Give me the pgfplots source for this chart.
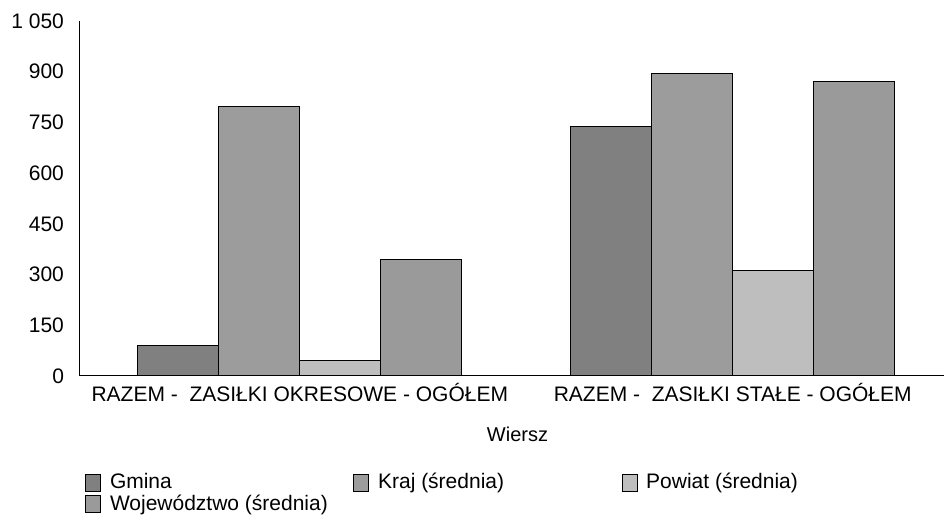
\documentclass[border=0pt]{standalone}
\usepackage{pgfplots}
\pgfplotsset{compat=1.18}
\usepackage{fontspec}
\setmainfont{Liberation Sans}
\definecolor{cG}{HTML}{808080}
\definecolor{cK}{HTML}{9C9C9C}
\definecolor{cP}{HTML}{BEBEBE}
\definecolor{cW}{HTML}{9A9A9A}
\begin{document}
\begin{tikzpicture}
\useasboundingbox (0,0) rectangle (472pt,261.5pt);
\begin{axis}[
  at={(39.5pt,73.5pt)}, anchor=south west,
  scale only axis, width=432.5pt, height=177.5pt,
  ybar=0pt, bar width=40.5pt,
  xmin=-0.51, xmax=1.488, ymin=0, ymax=1050,
  xtick={0,1},
  xticklabels={RAZEM -\ \ ZASIŁKI OKRESOWE - OGÓŁEM, RAZEM -\ \ ZASIŁKI STAŁE - OGÓŁEM},
  ytick={0,150,300,450,600,750,900,1050},
  yticklabels={0,150,300,450,600,750,900,{1 050}},
  axis x line=bottom, axis y line=left,
  axis line style={-, black, line width=0.5pt},
  major tick length=0pt,
  tick label style={font=\fontsize{10.5}{12}\selectfont},
  yticklabel style={xshift=-4pt},
  xticklabel style={yshift=0pt},
  xlabel={Wiersz},
  xlabel style={font=\fontsize{10.5}{12}\selectfont},
  every axis x label/.style={at={(axis description cs:0.5,0)}, anchor=center, yshift=-29pt, xshift=3pt},
  legend columns=3,
  legend cell align=left,
  legend style={draw=none, fill=none, inner sep=0pt,
    at={(axis description cs:0,0)}, anchor=north west, xshift=3pt, yshift=-48.5pt,
    font=\fontsize{10.5}{12}\selectfont,
    nodes={inner sep=0pt},
    row sep=1.5pt,
    /tikz/every odd column/.append style={column sep=4.5pt}},
  legend image code/.code={\draw[#1,draw=black,line width=0.3pt] (0pt,-4.2pt) rectangle (7.5pt,4.2pt);},
]
\addplot[fill=cG, draw=black, line width=0.5pt] coordinates {(0,90) (1,738)};
\addplot[fill=cK, draw=black, line width=0.5pt] coordinates {(0,798) (1,895)};
\addplot[fill=cP, draw=black, line width=0.5pt] coordinates {(0,45) (1,312)};
\addplot[fill=cW, draw=black, line width=0.5pt] coordinates {(0,345) (1,870)};
\legend{\makebox[121.75pt][l]{Gmina}, \makebox[121.75pt][l]{Kraj (średnia)}, Powiat (średnia), Województwo (średnia)}
\end{axis}
\end{tikzpicture}
\end{document}
